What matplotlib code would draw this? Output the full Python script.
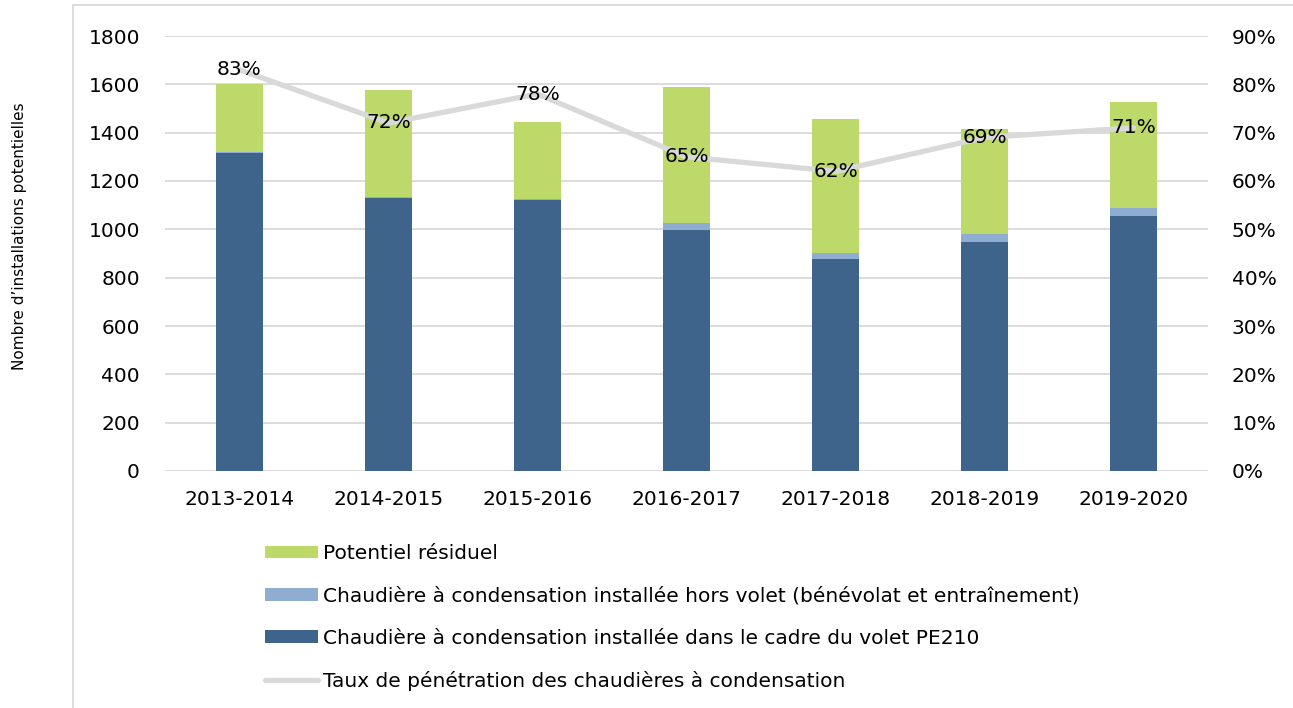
import matplotlib
matplotlib.use("Agg")
import matplotlib.pyplot as plt
from matplotlib.patches import Patch, Rectangle
from matplotlib.lines import Line2D
import numpy as np

plt.rcParams['font.family'] = ['DejaVu Sans']

categories = ["2013-2014", "2014-2015", "2015-2016", "2016-2017", "2017-2018", "2018-2019", "2019-2020"]
installed_pe210 = [1317, 1128, 1123, 997, 877, 949, 1056]
installed_outside = [5, 4, 3, 30, 26, 30, 34]
residual = [278, 445, 319, 562, 555, 436, 436]
penetration = [83, 72, 78, 65, 62, 69, 71]

c_green = "#BDD96A"
c_light = "#8EADD0"
c_dark = "#3E648C"
c_line = "#D9D9D9"
c_grid = "#D9D9D9"

FS = 14.5

fig = plt.figure(figsize=(12.93, 7.08), dpi=100)
ax = fig.add_axes([165/1293, 1-471/708, (1208-165)/1293, (471-36)/708])

x = np.arange(len(categories))
w = 0.32
b1 = np.array(installed_pe210)
b2 = np.array(installed_outside)
b3 = np.array(residual)
ax.bar(x, b1, w, color=c_dark, zorder=2)
ax.bar(x, b2, w, bottom=b1, color=c_light, zorder=2)
ax.bar(x, b3, w, bottom=b1 + b2, color=c_green, zorder=2)

ax.set_xlim(-0.5, len(categories) - 0.5)
ax.set_ylim(0, 1800)
ax.set_yticks(np.arange(0, 1801, 200))
ax.set_xticks(x)
ax.set_xticklabels(categories)
ax.yaxis.grid(True, color=c_grid, linewidth=1.3, zorder=0)
ax.set_axisbelow(True)
for s in ax.spines.values():
    s.set_visible(False)
ax.tick_params(axis='both', length=0, labelsize=FS, colors="#000000")
ax.tick_params(axis='x', pad=14)
ax.tick_params(axis='y', pad=18)

ax2 = ax.twinx()
ax2.set_ylim(0, 90)
ax2.set_yticks(np.arange(0, 91, 10))
ax2.set_yticklabels([f"{v}%" for v in range(0, 91, 10)])
for s in ax2.spines.values():
    s.set_visible(False)
ax2.tick_params(axis='y', length=0, labelsize=FS, pad=17)
ax2.plot(x, penetration, color=c_line, linewidth=3.8, solid_capstyle='round', zorder=3)
for xi, p in zip(x, penetration):
    ax2.text(xi, p, f"{p}%", ha='center', va='center', fontsize=FS, color="#000000", zorder=4)

fig.text(20/1293, 1-236/708, "Nombre d\u2019installations potentielles", rotation=90,
         ha='center', va='center', fontsize=11)

handles = [
    Patch(facecolor=c_green, edgecolor='none'),
    Patch(facecolor=c_light, edgecolor='none'),
    Patch(facecolor=c_dark, edgecolor='none'),
    Line2D([0], [0], color=c_line, linewidth=3.8, solid_capstyle='round'),
]
labels = [
    "Potentiel résiduel",
    "Chaudière à condensation installée hors volet (bénévolat et entraînement)",
    "Chaudière à condensation installée dans le cadre du volet PE210",
    "Taux de pénétration des chaudières à condensation",
]
fig.legend(handles, labels, loc='upper left', bbox_to_anchor=(265/1293, 1-544/708),
           frameon=False, fontsize=FS, handlelength=2.65, handleheight=0.6,
           handletextpad=0.25, labelspacing=1.16, borderaxespad=0, borderpad=0)

fig.patches.append(Rectangle((73/1293, -0.01), 1.2, 1-5/708 + 0.01, transform=fig.transFigure,
                             fill=False, edgecolor="#D9D9D9", linewidth=1.3))

fig.savefig("out.png", dpi=100)
